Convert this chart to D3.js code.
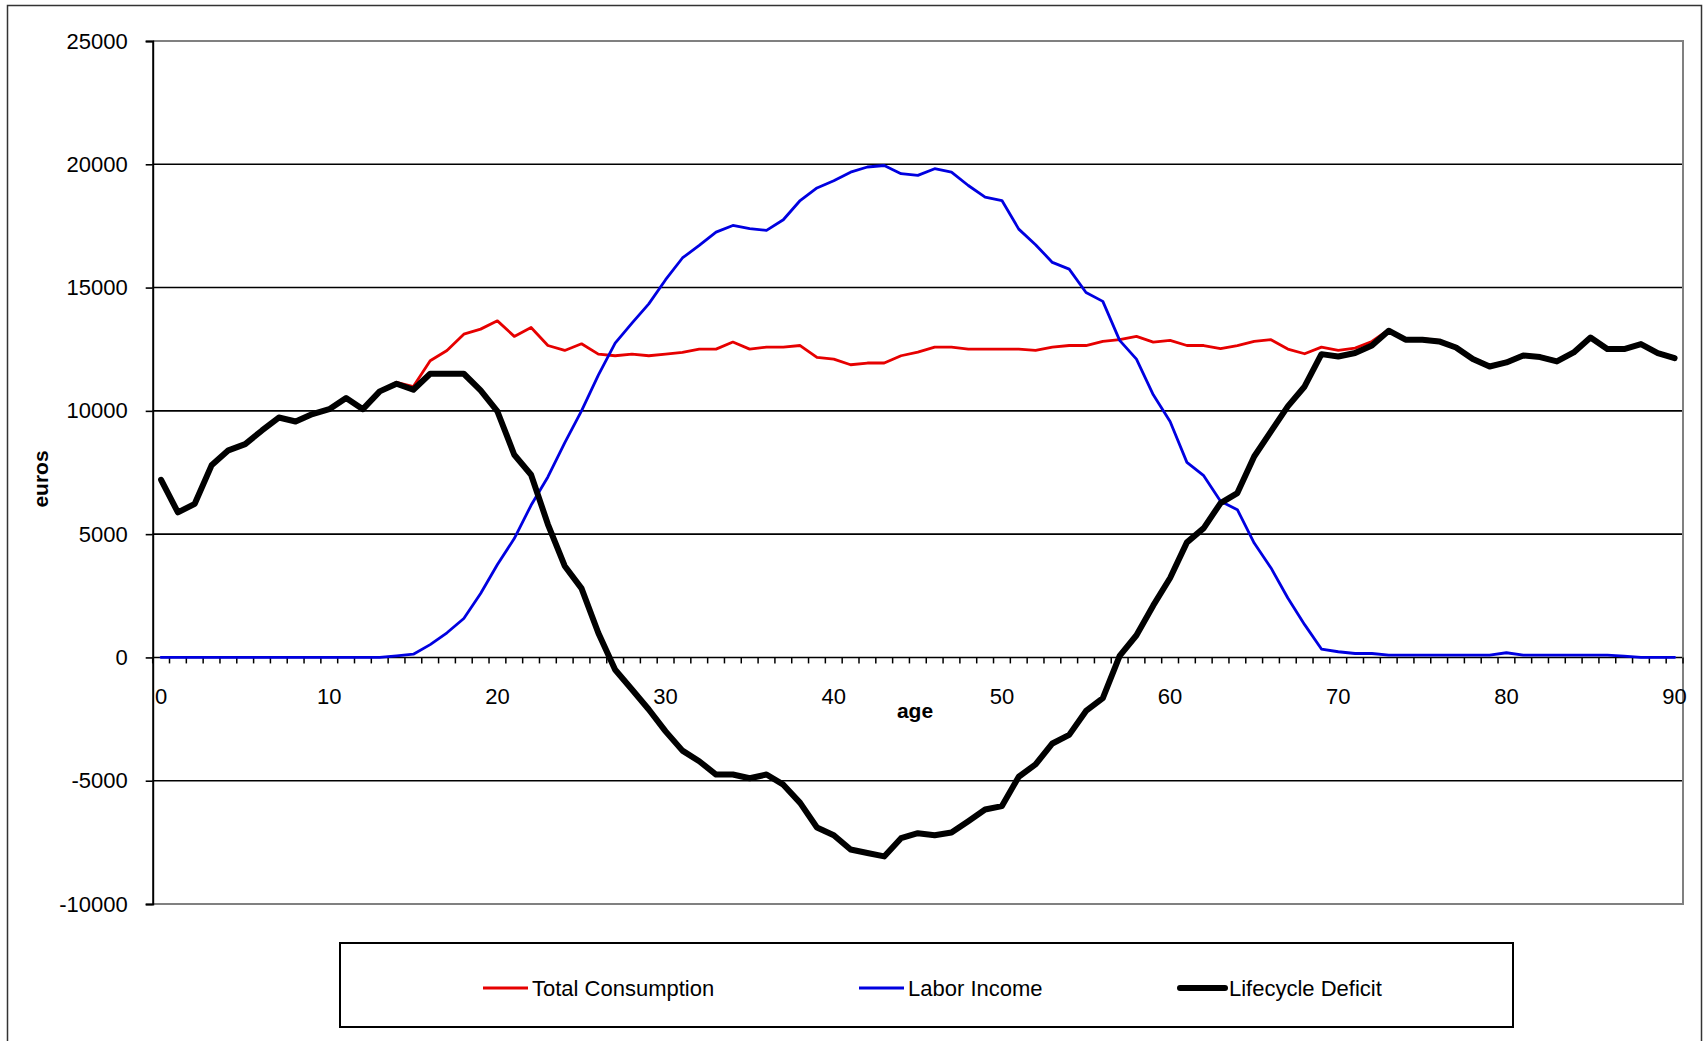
<!DOCTYPE html>
<html>
<head>
<meta charset="utf-8">
<script src="https://cdn.jsdelivr.net/npm/d3@7/dist/d3.min.js"></script>
<style>
  body { margin: 0; background: #fff; }
  svg { display: block; font-family: "Liberation Sans", Arial, sans-serif; }
</style>
</head>
<body>
<div id="chart"></div>
<script>
const width = 1707;
const height = 1041;

// ages 0..90
const ages = d3.range(0, 91);

const totalConsumption = [
  7205, 5880, 6230, 7790, 8400, 8650, 9205, 9730, 9570, 9870,
  10070, 10520, 10070, 10790, 11160, 10985, 12030, 12450, 13110, 13315,
  13650, 13020, 13380, 12650, 12450, 12720, 12300, 12235, 12300, 12235,
  12300, 12370, 12505, 12505, 12790, 12505, 12585, 12585, 12650, 12165,
  12100, 11870, 11940, 11940, 12235, 12385, 12585, 12585, 12505, 12505,
  12505, 12505, 12450, 12585, 12650, 12650, 12815, 12885, 13020, 12790,
  12855, 12650, 12650, 12520, 12650, 12815, 12885, 12505, 12315, 12585,
  12450, 12545, 12815, 13290, 12925, 12925, 12855, 12610, 12140, 11840,
  12005, 12285, 12220, 12045, 12410, 13015, 12545, 12545, 12710, 12345,
  12140
];

const laborIncome = [
  0, 0, 0, 0, 0, 0, 0, 0, 0, 0,
  0, 0, 0, 0, 60, 130, 520, 1000, 1580, 2590,
  3770, 4820, 6170, 7320, 8700, 10000, 11450, 12750, 13560, 14340,
  15320, 16200, 16710, 17250, 17520, 17390, 17320, 17750, 18530, 19040,
  19330, 19680, 19890, 19950, 19620, 19550, 19820, 19680, 19140, 18670,
  18530, 17370, 16740, 16020, 15750, 14800, 14440, 12860, 12100, 10650,
  9570, 7910, 7370, 6330, 5990, 4640, 3630, 2410, 1330, 340,
  230, 160, 160, 95, 95, 95, 95, 95, 95, 95,
  190, 95, 95, 95, 95, 95, 95, 50, 0, 0,
  0
];

const lifecycleDeficit = [
  7205, 5880, 6230, 7790, 8400, 8650, 9205, 9730, 9570, 9870,
  10070, 10520, 10070, 10790, 11100, 10855, 11505, 11505, 11505, 10830,
  9975, 8220, 7410, 5400, 3710, 2800, 990, -500, -1300, -2110,
  -3000, -3780, -4210, -4750, -4750, -4900, -4750, -5160, -5900, -6900,
  -7210, -7790, -7930, -8070, -7330, -7130, -7210, -7100, -6640, -6170,
  -6030, -4840, -4340, -3490, -3140, -2170, -1650, 60, 900, 2110,
  3220, 4665, 5245, 6260, 6665, 8150, 9165, 10180, 10990, 12300,
  12205, 12345, 12650, 13250, 12885, 12885, 12815, 12570, 12100, 11800,
  11965, 12245, 12180, 12005, 12370, 12975, 12505, 12505, 12710, 12345,
  12140
];

const yTicks = [-10000, -5000, 0, 5000, 10000, 15000, 20000, 25000];
const xLabels = [0, 10, 20, 30, 40, 50, 60, 70, 80, 90];

const seriesNames = ["Total Consumption", "Labor Income", "Lifecycle Deficit"];
const seriesColors = ["#e60000", "#0000e0", "#000000"];
const seriesWidths = [2.8, 2.8, 6];

const plot = { left: 152.7, right: 1683, top: 41, bottom: 904 };

const svg = d3.select("#chart")
  .append("svg")
  .attr("width", width)
  .attr("height", height);

svg.append("rect")
  .attr("width", width)
  .attr("height", height)
  .attr("fill", "#fff");

// outer chart border
svg.append("rect")
  .attr("x", 7.5)
  .attr("y", 5.5)
  .attr("width", 1694)
  .attr("height", 1050)
  .attr("fill", "none")
  .attr("stroke", "#333")
  .attr("stroke-width", 1.5);

const x = d3.scaleBand()
  .domain(ages)
  .range([plot.left, plot.right]);

const y = d3.scaleLinear()
  .domain([-10000, 25000])
  .range([plot.bottom, plot.top]);

const cx = a => x(a) + x.bandwidth() / 2;

// gridlines
svg.append("g")
  .selectAll("line")
  .data(yTicks.filter(t => t > -10000 && t < 25000))
  .enter().append("line")
  .attr("x1", plot.left)
  .attr("x2", plot.right)
  .attr("y1", d => y(d))
  .attr("y2", d => y(d))
  .attr("stroke", "#000")
  .attr("stroke-width", 1.6);

// plot area border (top, right, bottom)
svg.append("path")
  .attr("d", `M${plot.left},${y(25000)}H${plot.right}V${y(-10000)}H${plot.left}`)
  .attr("fill", "none")
  .attr("stroke", "#808080")
  .attr("stroke-width", 2);

// y axis
const yAxis = svg.append("g")
  .attr("transform", `translate(${plot.left},0)`)
  .call(d3.axisLeft(y).tickValues(yTicks).tickSize(7).tickPadding(18)
    .tickFormat(d => String(d)));
yAxis.select(".domain").attr("stroke", "#000").attr("stroke-width", 2);
yAxis.selectAll(".tick line").attr("stroke", "#000").attr("stroke-width", 1.6);
yAxis.selectAll("text")
  .attr("fill", "#000")
  .style("font-size", "22px");

// x axis at zero: ticks between categories
const bounds = ages.map(a => x(a)).concat([plot.right]);
svg.append("g")
  .selectAll("line")
  .data(bounds)
  .enter().append("line")
  .attr("x1", d => d)
  .attr("x2", d => d)
  .attr("y1", y(0))
  .attr("y2", y(0) + 6)
  .attr("stroke", "#000")
  .attr("stroke-width", 1.5);

const xAxis = svg.append("g")
  .attr("transform", `translate(0,${y(0)})`)
  .call(d3.axisBottom(x).tickValues(xLabels).tickSize(0).tickPadding(31));
xAxis.select(".domain").remove();
xAxis.selectAll("text")
  .attr("fill", "#000")
  .style("font-size", "22px");

// axis titles
svg.append("text")
  .attr("x", 915)
  .attr("y", 718)
  .attr("text-anchor", "middle")
  .style("font-size", "21px")
  .style("font-weight", "bold")
  .text("age");

svg.append("text")
  .attr("transform", "translate(48,479) rotate(-90)")
  .attr("text-anchor", "middle")
  .style("font-size", "21px")
  .style("font-weight", "bold")
  .text("euros");

// series lines
const line = d3.line()
  .x((d, i) => cx(ages[i]))
  .y(d => y(d));

const seriesData = [totalConsumption, laborIncome, lifecycleDeficit];

svg.append("g")
  .selectAll("path")
  .data(seriesData)
  .enter().append("path")
  .attr("d", d => line(d))
  .attr("fill", "none")
  .attr("stroke", (d, i) => seriesColors[i])
  .attr("stroke-width", (d, i) => seriesWidths[i])
  .attr("stroke-linejoin", "round")
  .attr("stroke-linecap", "round");

// legend
const legend = svg.append("g").attr("class", "legend");

legend.append("rect")
  .attr("x", 340)
  .attr("y", 943)
  .attr("width", 1173)
  .attr("height", 84)
  .attr("fill", "#fff")
  .attr("stroke", "#000")
  .attr("stroke-width", 2);

const legendX = [481, 857, 1178];

const item = legend.selectAll(".item")
  .data(seriesNames)
  .enter().append("g")
  .attr("class", "item")
  .attr("transform", (d, i) => `translate(${legendX[i]},988)`);

item.append("line")
  .attr("x1", 2)
  .attr("x2", 47)
  .attr("stroke", (d, i) => seriesColors[i])
  .attr("stroke-width", (d, i) => seriesWidths[i])
  .attr("stroke-linecap", (d, i) => i === 2 ? "round" : "butt");

item.append("text")
  .attr("x", 51)
  .attr("dy", "0.35em")
  .style("font-size", "22px")
  .text(d => d);
</script>
</body>
</html>
